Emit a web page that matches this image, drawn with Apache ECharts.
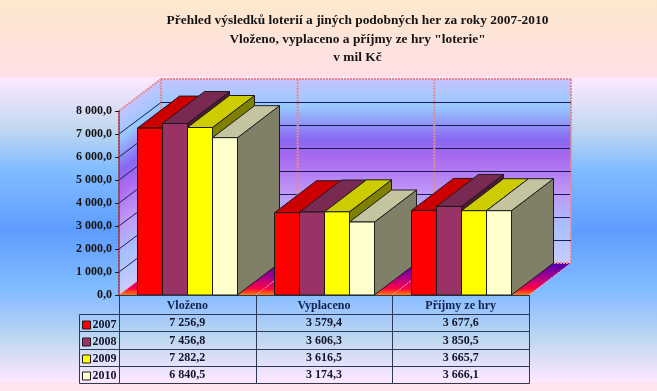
<!DOCTYPE html>
<html>
<head>
<meta charset="utf-8">
<style>html,body{margin:0;padding:0;background:#fff}#c{width:657px;height:391px}</style>
<script src="https://cdn.jsdelivr.net/npm/echarts@6/dist/echarts.min.js"></script>
</head>
<body>
<div id="c"></div>
<script>
const categories = ['Vloženo', 'Vyplaceno', 'Příjmy ze hry'];
const years = ['2007', '2008', '2009', '2010'];
const v2007 = [7256.9, 3579.4, 3677.6];
const v2008 = [7456.8, 3606.3, 3850.5];
const v2009 = [7282.2, 3616.5, 3665.7];
const v2010 = [6840.5, 3174.3, 3666.1];
const wallTicks = [1000, 2000, 3000, 4000, 5000, 6000, 7000];

const yearValues = [v2007, v2008, v2009, v2010];
const faces = [
  { front: '#ff0000', top: '#cc0000', side: '#800000' },
  { front: '#993366', top: '#7a2952', side: '#4d1a33' },
  { front: '#ffff00', top: '#cccc00', side: '#808000' },
  { front: '#ffffcc', top: '#c4c4a0', side: '#808068' }
];
const DX = 42, DY = -32, BAR = 25;
const serif = '"Liberation Serif","Times New Roman",serif';
const edge = '#1c1c1c', salmon = '#e88a8a', navy = '#1a1a55', tableLine = '#2c3a58';

const fmt = v => {
  const s = v.toFixed(1).replace('.', ',');
  const [a, b] = s.split(',');
  return a.replace(/\B(?=(\d{3})+$)/g, ' ') + ',' + b;
};
const crisp = n => Math.round(n) + 0.5;

const LG = (stops, a, b, c, d, g) => new echarts.graphic.LinearGradient(a, b, c, d,
  stops.map(s => ({ offset: s[0], color: s[1] })), g);

const wallStops = [[0, '#c4c4ff'], [0.15, '#98c8ff'], [0.33, '#8868f0'], [0.42, '#a868f0'],
                   [0.62, '#c098f8'], [0.8, '#a8c0ff'], [1, '#c8ccff']];
const floorStops = [[0, '#4a00b0'], [0.45, '#a8008c'], [0.8, '#ff0044'], [1, '#ff8000']];

function renderWalls(params, api) {
  const o = api.coord([0, 0]);
  const band = api.size([1, 0])[0];
  const x0 = o[0] - band / 2;
  const x1 = x0 + band * categories.length;
  const y0 = o[1];
  const y8 = api.coord([0, 8000])[1];
  const L = (x1a, y1a, x2a, y2a, color, w, dash) => ({
    type: 'line', shape: { x1: x1a, y1: y1a, x2: x2a, y2: y2a },
    style: { stroke: color, lineWidth: w, lineDash: dash || null }
  });
  const nx = -DY, ny = DX;
  const k = (y0 - y8) * ny / (nx * nx + ny * ny);
  const kids = [];
  kids.push({ type: 'polygon', shape: { points: [[x0 + DX, y8 + DY], [x1 + DX, y8 + DY], [x1 + DX, y0 + DY], [x0 + DX, y0 + DY]] },
    style: { fill: LG(wallStops, 0, 0, 0, 1) } });
  kids.push({ type: 'polygon', shape: { points: [[x0, y8], [x0 + DX, y8 + DY], [x0 + DX, y0 + DY], [x0, y0]] },
    style: { fill: LG(wallStops, x0, y8, x0 + nx * k, y8 + ny * k, true) } });
  kids.push({ type: 'polygon', shape: { points: [[x0, y0], [x1, y0], [x1 + DX, y0 + DY], [x0 + DX, y0 + DY]] },
    style: { fill: LG(floorStops, 0, 0, 0, 1) } });
  wallTicks.forEach(v => {
    const y = api.coord([0, v])[1];
    const yb = crisp(y + DY);
    kids.push(L(x0, y, x0 + DX, yb, navy, 1));
    kids.push(L(x0 + DX, yb, x1 + DX, yb, navy, 1));
  });
  for (let i = 0; i <= categories.length; i++) {
    const x = x0 + band * i;
    kids.push(L(x + DX, y8 + DY, x + DX, y0 + DY, salmon, 2, [2, 1]));
    kids.push(L(x, y0, x + DX, y0 + DY, '#f4b0c8', 1, [2, 1]));
  }
  kids.push(L(x0 + DX, y8 + DY, x1 + DX, y8 + DY, salmon, 2, [2, 1]));
  kids.push(L(x0, y8, x0 + DX, y8 + DY, salmon, 2, [2, 1]));
  kids.push(L(x0 + DX, y0 + DY, x1 + DX, y0 + DY, salmon, 2, [2, 1]));
  return { type: 'group', children: kids };
}

function renderBar(idx) {
  return function (params, api) {
    const c = api.coord([api.value(0), api.value(1)]);
    const base = api.coord([api.value(0), 0]);
    const x = Math.round(c[0] + (idx - 2) * BAR) + 0.5, r = x + BAR, y = c[1], b = base[1];
    const f = faces[idx];
    const s = col => ({ fill: col, stroke: edge, lineWidth: 1, lineJoin: 'round' });
    return { type: 'group', children: [
      { type: 'polygon', shape: { points: [[r, y], [r + DX, y + DY], [r + DX, b + DY], [r, b]] }, style: s(f.side) },
      { type: 'polygon', shape: { points: [[x, y], [x + DX, y + DY], [r + DX, y + DY], [r, y]] }, style: s(f.top) },
      { type: 'rect', shape: { x: x, y: y, width: BAR, height: b - y }, style: s(f.front) }
    ] };
  };
}

const ROWS = [314.5, 331.5, 349.5, 366.5, 383.5];
function renderTable(params, api) {
  const i = api.value(0);
  const c = api.coord([i, 0]);
  const band = api.size([1, 0])[0];
  const xl = crisp(c[0] - band / 2), xr = crisp(c[0] + band / 2);
  const kids = [];
  const line = (a, b, d, e) => ({ type: 'line', shape: { x1: a, y1: b, x2: d, y2: e }, style: { stroke: tableLine, lineWidth: 1 } });
  kids.push(line(xr, c[1], xr, ROWS[4]));
  if (i === 0) {
    kids.push(line(xl, c[1], xl, ROWS[4]));
    kids.push(line(xl - 40, ROWS[0], xl - 40, ROWS[4]));
    ROWS.forEach(y => kids.push(line(xl - 40, y, xl, y)));
  }
  ROWS.forEach(y => kids.push(line(xl, y, xr, y)));
  yearValues.forEach((vals, r) => {
    kids.push({ type: 'text', style: { text: fmt(vals[i]), x: c[0], y: (ROWS[r] + ROWS[r + 1]) / 2,
      align: 'center', verticalAlign: 'middle', font: 'bold 12px ' + serif, fill: '#141428' } });
  });
  return { type: 'group', children: kids };
}

const barSeries = [];
categories.forEach((cat, i) => {
  years.forEach((y, k) => {
    barSeries.push({
      type: 'custom', name: y, z: 3 + i * 4 + k, renderItem: renderBar(k),
      itemStyle: { color: faces[k].front },
      data: [[i, yearValues[k][i]]], encode: { x: 0, y: 1 }
    });
  });
});

const chart = echarts.init(document.getElementById('c'), null, { renderer: 'canvas' });
chart.setOption({
  animation: false,
  backgroundColor: LG([
    [0, '#fde8cc'], [0.195, '#ffdfe6'], [0.2, '#fde8ff'], [0.33, '#c0d8f0'], [0.435, '#80bcff'],
    [0.59, '#5e9cff'], [0.74, '#80bcff'], [0.77, '#90c0ff'], [0.87, '#c0d8f0'], [0.975, '#fde8ff'],
    [0.98, '#ffe4ee'], [1, '#ffe4ee']
  ], 0, 0, 0, 1),
  title: {
    text: 'Přehled výsledků loterií a jiných podobných her za roky 2007-2010\nVloženo, vyplaceno a příjmy ze hry "loterie"\nv mil Kč',
    left: 357.5, top: 11.5, textAlign: 'center', padding: 0,
    textStyle: { fontFamily: serif, fontWeight: 'bold', fontSize: 13.4, lineHeight: 18.5, color: '#141414' }
  },
  legend: {
    data: years, orient: 'vertical', left: 82, top: 317.5, padding: 0, itemGap: 2,
    itemWidth: 8, itemHeight: 8, icon: 'rect', selectedMode: false,
    itemStyle: { borderColor: edge, borderWidth: 1 },
    textStyle: { fontFamily: serif, fontWeight: 'bold', fontSize: 12, lineHeight: 14, color: '#141428', padding: [1, 0, 0, -3] }
  },
  grid: { left: 119, top: 111, width: 410, height: 184, containLabel: false },
  xAxis: {
    type: 'category', data: categories, z: 5,
    axisLine: { lineStyle: { color: tableLine, width: 1 } },
    axisTick: { show: false },
    axisLabel: { fontFamily: serif, fontWeight: 'bold', fontSize: 12, color: '#14224a', margin: 5 }
  },
  yAxis: {
    type: 'value', min: 0, max: 8000, interval: 1000, z: 5,
    axisLine: { show: true, lineStyle: { color: '#9a2c2c', width: 1.5, type: [2, 1] } },
    axisTick: { show: true, length: 4, lineStyle: { color: '#2a1a1a' } },
    splitLine: { show: false },
    axisLabel: { fontFamily: serif, fontWeight: 'bold', fontSize: 12, color: '#141414', margin: 7, formatter: fmt }
  },
  tooltip: { show: false },
  series: [
    { type: 'custom', name: 'walls', silent: true, z: 1, renderItem: renderWalls, data: [[0, 0]], encode: { x: 0, y: 1 } },
    { type: 'custom', name: 'table', silent: true, z: 2, renderItem: renderTable, data: categories.map((c, i) => [i, 0]), encode: { x: 0, y: 1 } }
  ].concat(barSeries)
});
</script>
</body>
</html>
